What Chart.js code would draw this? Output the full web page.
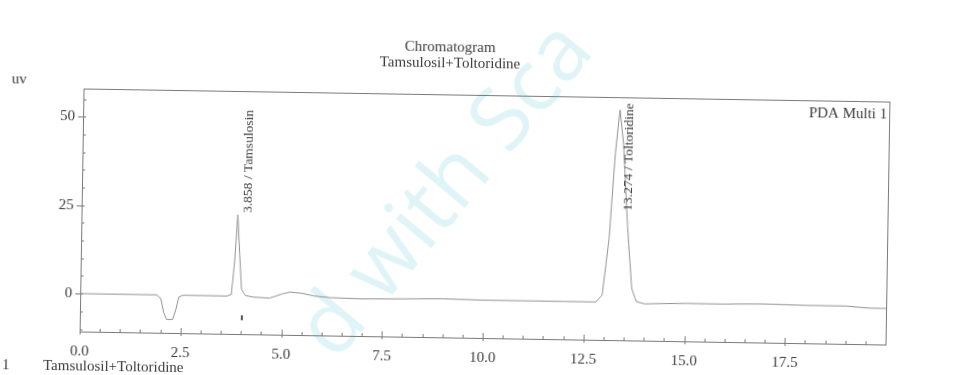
<!DOCTYPE html>
<html lang="en">
<head>
  <meta charset="UTF-8" />
  <title>Chromatogram</title>
  <script src="https://cdn.jsdelivr.net/npm/chart.js"></script>
  <style>
    html,body{margin:0;padding:0;background:#fff;overflow:hidden;}
    .wrap{width:968px;height:375px;position:relative;overflow:hidden;}
    /* the scanned page sits slightly askew */
    #chrom{position:absolute;left:-16px;top:-17px;
           transform-origin:500px 204.5px;transform:rotate(0.93deg);}
  </style>
</head>
<body>
  <div class="wrap"><canvas id="chrom" width="1000" height="410"></canvas></div>

  <script>
    // detector trace (min, uV)
    const times  =[0,1.9,2.0,2.08,2.15,2.3,2.38,2.45,2.55,3.65,3.75,3.82,3.88,3.94,4.0,4.1,4.3,4.7,5.0,5.2,5.5,5.8,6.2,7.0,8.0,9.0,10.0,11.0,12.0,12.8,12.95,13.1,13.22,13.32,13.42,13.55,13.68,13.8,14.0,15.0,16.0,17.0,18.0,19.0,19.6,20.0];
    const signal =[0,0,-1,-5,-6.9,-6.9,-4,-0.5,0,0,0.5,10,23,12,2,0.2,-0.2,-0.4,0.8,1.4,1.1,0.4,0,-0.2,0,0.2,0,0,0,0,2,18,42,54.4,45,22,4,0.3,-0.3,0,0,0.2,0,0,-0.5,-0.5];

    const peakTimes =[3.858,13.274];
    const peakNames =['Tamsulosin','Toltoridine'];

    const markTimes =[4.02];
    const markValues=[-6.1];

    const xTicks     =[0,2.5,5,7.5,10,12.5,15,17.5];
    const xMinorStep =0.5;
    const yTicks     =[0,25,50];
    const yMinorStep =5;

    const titleLines =['Chromatogram','Tamsulosil+Toltoridine'];
    const channel    ='PDA Multi 1';
    const unitLabel  ='uv';
    const footer     =['1','Tamsulosil+Toltoridine'];

    const OX=16, OY=17;   // canvas is a bit larger than the page
    const serif='"Liberation Serif", "DejaVu Serif", serif';
    const ink='#3c3c3c';

    function peakTop(t){
      let best=-Infinity;
      times.forEach((x,i)=>{ if(Math.abs(x-t)<0.2 && signal[i]>best) best=signal[i]; });
      return best;
    }

    const decor={
      id:'decor',
      beforeDatasetsDraw(chart){
        const {ctx}=chart;
        ctx.save();
        ctx.translate(447+OX,192+OY);
        ctx.rotate(-51*Math.PI/180);
        ctx.font='86px "Open Sans", "DejaVu Sans", sans-serif';
        ctx.fillStyle='rgba(140,214,228,0.28)';
        ctx.textAlign='center';ctx.textBaseline='middle';
        ctx.fillText('d with Sca',0,0);
        ctx.restore();
      },
      afterDatasetsDraw(chart){
        const {ctx,chartArea:a,scales:{x,y}}=chart;
        ctx.save();
        ctx.strokeStyle='#7a7a7a';ctx.lineWidth=1;
        ctx.strokeRect(a.left+0.5,a.top+0.5,a.right-a.left,a.bottom-a.top);

        // tick marks
        ctx.beginPath();
        for(let v=0;v<=x.max;v+=xMinorStep){
          const px=Math.round(x.getPixelForValue(v))+0.5;
          const major=xTicks.includes(v);
          ctx.moveTo(px,a.bottom+(major?3:1));ctx.lineTo(px,a.bottom-(major?5:3));
        }
        for(let v=Math.ceil(y.min/yMinorStep)*yMinorStep;v<=y.max;v+=yMinorStep){
          const py=Math.round(y.getPixelForValue(v))+0.5;
          const major=yTicks.includes(v);
          ctx.moveTo(a.left-(major?5:0),py);ctx.lineTo(a.left+3,py);
        }
        ctx.stroke();

        // peak labels: sit on the peak top, or hang from the frame when too tall
        ctx.fillStyle=ink;
        ctx.font='13.5px '+serif;
        peakTimes.forEach((t,i)=>{
          const txt=t.toFixed(3)+' / '+peakNames[i];
          const w=ctx.measureText(txt).width;
          const topPx=y.getPixelForValue(peakTop(t));
          ctx.save();
          ctx.textBaseline='middle';
          if(topPx-2-w>a.top+6){
            ctx.translate(x.getPixelForValue(t)+11,topPx-2);
            ctx.textAlign='left';
          }else{
            ctx.translate(x.getPixelForValue(t)+12,a.top+6);
            ctx.textAlign='right';
          }
          ctx.rotate(-Math.PI/2);
          ctx.fillText(txt,0,0);
          ctx.restore();
        });

        ctx.font='15px '+serif;
        ctx.textAlign='center';ctx.textBaseline='middle';
        ctx.fillText(titleLines[0],448+OX,48+OY);
        ctx.fillText(titleLines[1],448+OX,64+OY);

        ctx.textAlign='right';
        ctx.fillText(channel,a.right-2,108.5+OY);
        ctx.textAlign='left';
        ctx.fillText(unitLabel,10+OX,87+OY);

        ctx.fillText(footer[0],5+OX,373+OY);
        ctx.fillText(footer[1],46+OX,373+OY);
        ctx.restore();
      }
    };

    new Chart(document.getElementById('chrom'),{
      type:'line',
      data:{
        datasets:[
          {
            data:times.map((t,i)=>({x:t,y:signal[i]})),
            borderColor:'#929292',borderWidth:1,pointRadius:0,tension:0
          },
          {
            type:'scatter',
            data:markTimes.map((t,i)=>({x:t,y:markValues[i]})),
            pointStyle:'line',rotation:90,pointRadius:2.5,
            borderColor:'#555',borderWidth:2
          }
        ]
      },
      options:{
        responsive:false,animation:false,devicePixelRatio:1,
        layout:{padding:{left:0,top:95+OY,right:96,bottom:0}},
        plugins:{legend:{display:false},tooltip:{enabled:false}},
        scales:{
          x:{
            type:'linear',min:0,max:20,
            afterBuildTicks:s=>{s.ticks=xTicks.map(v=>({value:v}));},
            afterFit:s=>{s.height=55;},
            grid:{display:false,drawTicks:false},
            border:{display:false},
            ticks:{padding:11,color:ink,maxRotation:0,autoSkip:false,
                   font:{family:serif,size:15},callback:v=>Number(v).toFixed(1)}
          },
          y:{
            min:-10.7,max:58,
            afterBuildTicks:s=>{s.ticks=yTicks.map(v=>({value:v}));},
            afterFit:s=>{s.width=82+OX;},
            grid:{display:false,drawTicks:false},
            border:{display:false},
            ticks:{padding:8,color:ink,font:{family:serif,size:15}}
          }
        }
      },
      plugins:[decor]
    });
  </script>
</body>
</html>
